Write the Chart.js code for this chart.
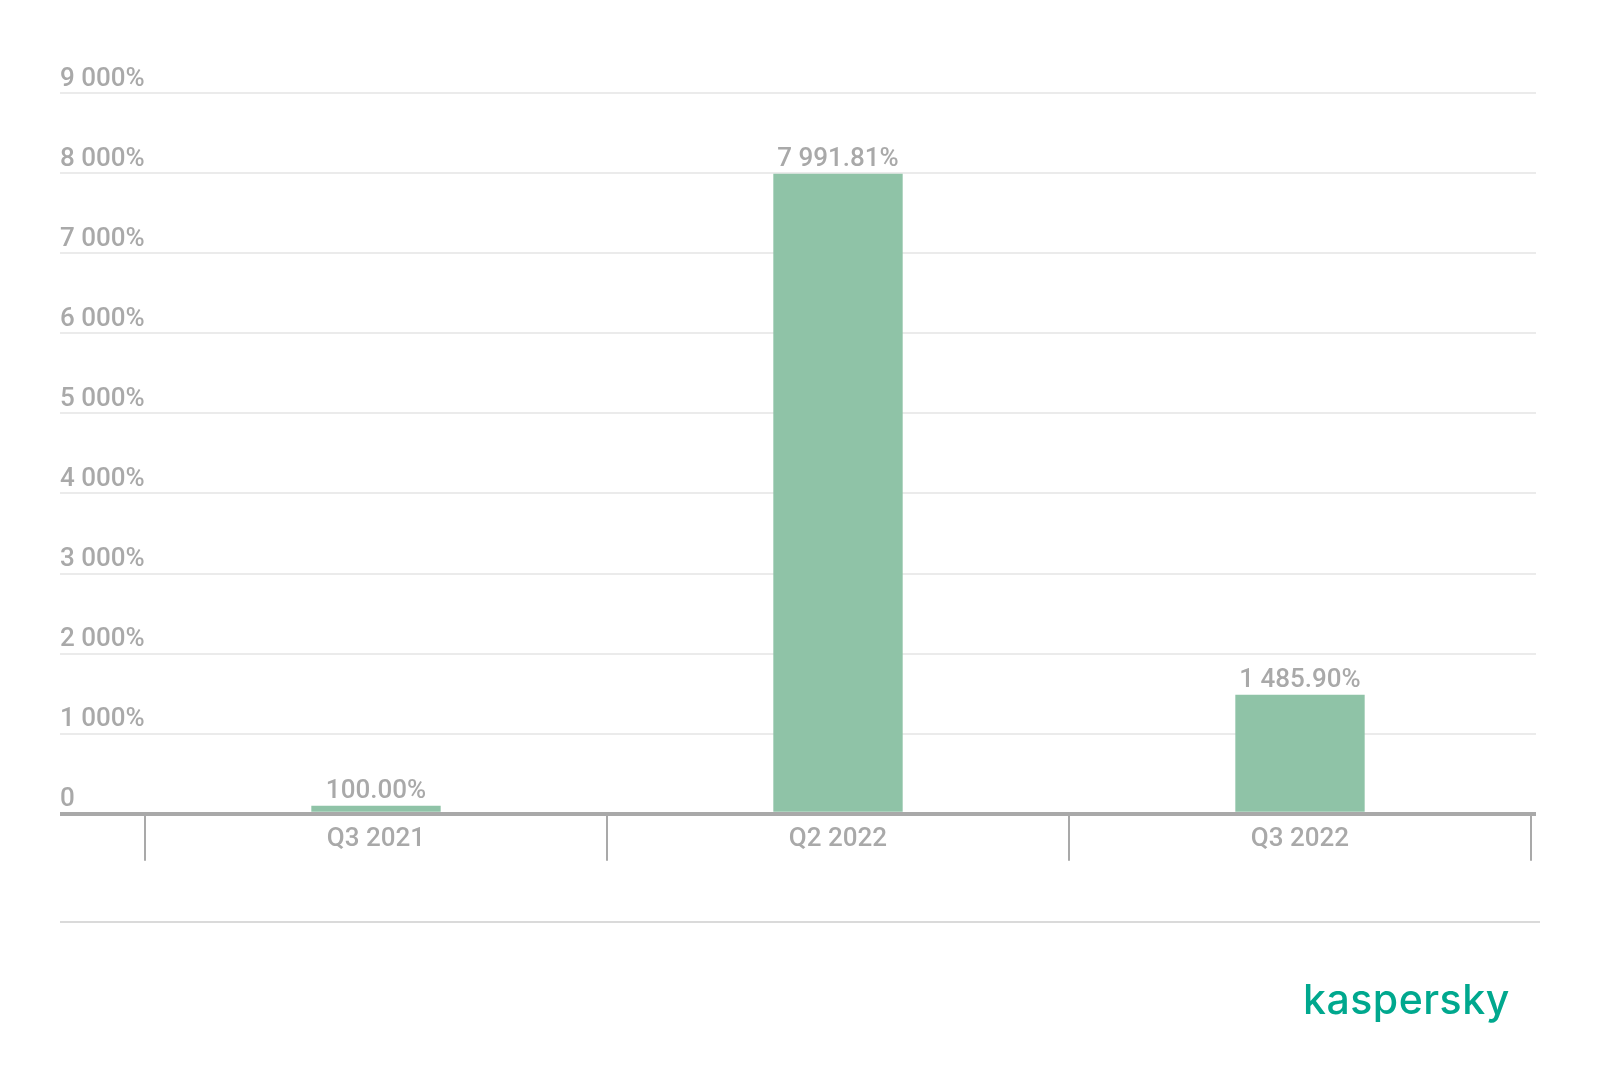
<!DOCTYPE html>
<html>
<head>
<meta charset="utf-8">
<script src="https://cdn.jsdelivr.net/npm/chart.js@4/dist/chart.umd.min.js"></script>
<style>
  html, body { margin: 0; padding: 0; background: #fff; }
  #wrap { position: relative; width: 1600px; height: 1086px; }
  #rule { position: absolute; left: 60px; top: 921px; width: 1480px; height: 2px; background: #dadada; }
  #logo { position: absolute; left: 1303px; top: 974px; font-family: Inter, sans-serif; font-weight: 500;
          font-size: 41px; color: #00a88e; letter-spacing: 0.5px; }
</style>
</head>
<body>
<div id="wrap">
  <canvas id="chart" width="1600" height="1086"></canvas>
  <div id="rule"></div>
  <div id="logo">kaspersky</div>
</div>
<script>
const categories = ["Q3 2021", "Q2 2022", "Q3 2022"];
const values = [100.0, 7991.81, 1485.9];
const yMax = 9000;
const yStep = 1000;

const grey = "#a9a9a9";
const gridGrey = "#ebebeb";
const barColor = "#8fc3a7";
const font = { family: "Roboto", size: 26, weight: "500" };

// 1 234.56 -> "1 234.56"
function spaced(n, dec) {
  const parts = n.toFixed(dec).split(".");
  parts[0] = parts[0].replace(/\B(?=(\d{3})+(?!\d))/g, " ");
  return parts.join(".");
}

const gridColor = (c) => (c.tick && c.tick.value === 0 ? grey : gridGrey);
const gridWidth = (c) => (c.tick && c.tick.value === 0 ? 4 : 2);

// valores em cima das barras
const barLabels = {
  id: "barLabels",
  afterDatasetsDraw(chart) {
    const ctx = chart.ctx;
    const meta = chart.getDatasetMeta(0);
    ctx.save();
    ctx.font = `${font.weight} ${font.size}px ${font.family}`;
    ctx.fillStyle = grey;
    ctx.textAlign = "center";
    ctx.textBaseline = "alphabetic";
    meta.data.forEach((bar, i) => {
      ctx.fillText(spaced(values[i], 2) + "%", bar.x, bar.y - 8);
    });
    ctx.restore();
  },
};

new Chart(document.getElementById("chart"), {
  type: "bar",
  data: {
    labels: categories,
    datasets: [
      {
        data: values,
        backgroundColor: barColor,
        categoryPercentage: 1,
        barPercentage: 0.28,
        xAxisID: "x",
      },
    ],
  },
  options: {
    responsive: false,
    animation: false,
    layout: { padding: { left: 60, right: 64, top: 93, bottom: 221 } },
    plugins: {
      legend: { display: false },
      tooltip: { enabled: false },
    },
    scales: {
      // separadores entre categorias
      xSep: {
        type: "category",
        display: true,
        position: "bottom",
        weight: 0,
        offset: true,
        border: { display: false },
        grid: {
          offset: true,
          drawOnChartArea: false,
          drawTicks: true,
          tickLength: 47,
          color: grey,
          lineWidth: 2,
        },
        ticks: { display: false },
        afterFit: (scale) => {
          scale.height = 0;
        },
      },
      x: {
        position: "bottom",
        weight: 1,
        border: { display: false },
        grid: { display: false, drawTicks: false },
        ticks: { color: grey, font: font, padding: 10 },
      },
      y: {
        min: 0,
        max: yMax,
        border: { display: false },
        grid: { color: gridColor, lineWidth: gridWidth, tickLength: 85 },
        ticks: {
          stepSize: yStep,
          color: grey,
          font: font,
          crossAlign: "far",
          labelOffset: -14,
          callback: (v) => (v === 0 ? "0" : spaced(v, 0) + "%"),
        },
        afterFit: (scale) => {
          scale.width = 85;
        },
      },
      y2: {
        display: true,
        position: "right",
        min: 0,
        max: yMax,
        border: { display: false },
        grid: { drawOnChartArea: false, color: gridColor, lineWidth: gridWidth, tickLength: 5 },
        ticks: { stepSize: yStep, display: false },
      },
    },
  },
  plugins: [barLabels],
});
</script>
</body>
</html>
